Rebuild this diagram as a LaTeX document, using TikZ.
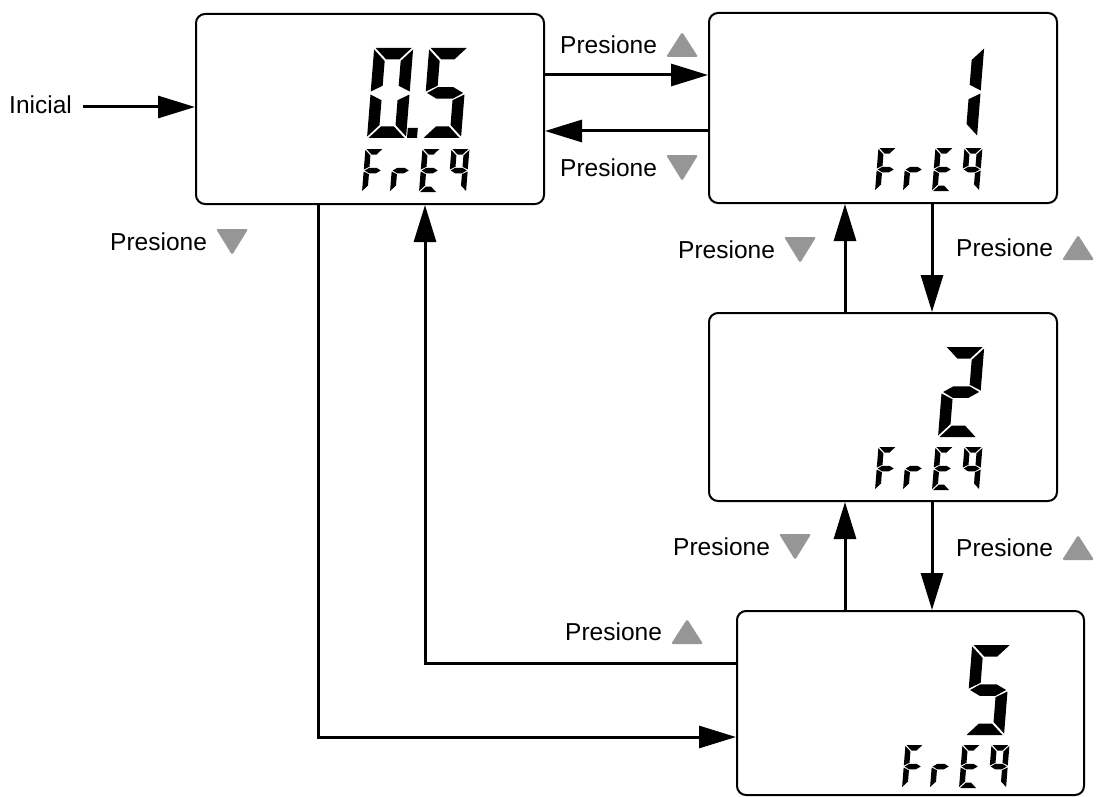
\documentclass[tikz,border=0pt]{standalone}
\usepackage{fontspec}
\setmainfont{Liberation Sans}
\usetikzlibrary{arrows.meta,calc}
\definecolor{keygray}{RGB}{150,150,150}
\tikzset{
  lcdbox/.style={draw, line width=2pt, rounded corners=9pt, minimum width=348pt, minimum height=190pt, inner sep=0pt, anchor=north west},
  conn/.style={line width=3pt, -{Triangle[length=37pt,width=22pt]}},
  lbl/.style={anchor=west, inner sep=0pt, font=\fontsize{24.5}{28}\selectfont},
  keytri/.style={fill=keygray, rounded corners=1.5pt},
}
% seven-segment pieces (cell 0..W x 0..H, y up)
\newcommand{\lcdsega}{\fill (\dG,\dH) -- ({\dW-\dG},\dH) -- ({\dW-\dT-\dG},{\dH-\dT}) -- ({\dT+\dG},{\dH-\dT}) -- cycle;}
\newcommand{\lcdsegd}{\fill (\dG,0) -- ({\dW-\dG},0) -- ({\dW-\dT-\dG},\dT) -- ({\dT+\dG},\dT) -- cycle;}
\newcommand{\lcdsegf}{\fill (0,{\dH-\dG}) -- (\dT,{\dH-\dT-\dG}) -- (\dT,{\dH/2+\dT/2+\dG}) -- (0,{\dH/2+\dG}) -- cycle;}
\newcommand{\lcdsege}{\fill (0,\dG) -- (\dT,{\dT+\dG}) -- (\dT,{\dH/2-\dT/2-\dG}) -- (0,{\dH/2-\dG}) -- cycle;}
\newcommand{\lcdsegb}{\fill (\dW,{\dH-\dG}) -- ({\dW-\dT},{\dH-\dT-\dG}) -- ({\dW-\dT},{\dH/2+\dT/2+\dG}) -- (\dW,{\dH/2+\dG}) -- cycle;}
\newcommand{\lcdsegc}{\fill (\dW,\dG) -- ({\dW-\dT},{\dT+\dG}) -- ({\dW-\dT},{\dH/2-\dT/2-\dG}) -- (\dW,{\dH/2-\dG}) -- cycle;}
\newcommand{\lcdsegg}{\fill (\dG,{\dH/2}) -- (\dT,{\dH/2+\dT/2}) -- ({\dW-\dT},{\dH/2+\dT/2}) -- ({\dW-\dG},{\dH/2}) -- ({\dW-\dT},{\dH/2-\dT/2}) -- (\dT,{\dH/2-\dT/2}) -- cycle;}
\newcommand{\lcdsegp}{\fill (0,0) rectangle (\dW,\dH);}
\newcommand{\lcdglyph}[7]{%
  \begin{scope}[shift={(#1,#2)}, xslant=0.08, yscale=-1]
    \def\dW{#3}\def\dH{#4}\def\dT{#5}\def\dG{#6}%
    \foreach \s in {#7}{\csname lcdseg\s\endcsname}
  \end{scope}}
\newcommand{\bigdigit}[3]{\lcdglyph{#1}{#2}{39}{90}{11.5}{1.5}{#3}}
\newcommand{\smallchar}[3]{\lcdglyph{#1}{#2}{18}{43}{5.5}{1}{#3}}
\newcommand{\freqword}[2]{%
  \smallchar{{#1-181}}{#2}{a,f,g,e}
  \smallchar{{#1-153}}{#2}{e,g}
  \smallchar{{#1-124}}{#2}{a,f,g,e,d}
  \smallchar{{#1-95}}{#2}{a,b,c,f,g}}
\begin{document}
\begin{tikzpicture}[x=1pt,y=-1pt]
\useasboundingbox (0,0) rectangle (1097,797);
% boxes
\node[lcdbox] (A) at (195,13) {};
\node[lcdbox] (B) at (708,12) {};
\node[lcdbox, minimum height=188pt] (C) at (708,312) {};
\node[lcdbox, minimum height=184pt, minimum width=347pt] (D) at (736,610) {};
% LCD readings
\bigdigit{367}{138}{a,b,c,d,e,f}
\lcdglyph{407}{138}{10}{10}{0}{0}{p}
\bigdigit{422}{138}{a,f,g,c,d}
\freqword{543}{192}
\bigdigit{938}{137}{b,c}
\freqword{1056}{191}
\bigdigit{938}{437}{a,b,g,e,d}
\freqword{1056}{490}
\bigdigit{965}{735}{a,f,g,c,d}
\freqword{1083}{788}
% labels
\node[lbl] (ini) at (9,104.5) {Inicial};
\node[lbl] (l1) at (560,45) {Presione};
\node[lbl] (l2) at (560,168) {Presione};
\node[lbl] (l3) at (110,242) {Presione};
\node[lbl] (l4) at (678,250) {Presione};
\node[lbl] (l5) at (956,248) {Presione};
\node[lbl] (l6) at (673,547) {Presione};
\node[lbl] (l7) at (956,548) {Presione};
\node[lbl] (l8) at (565,632) {Presione};
% key triangles (up)
\foreach \n in {l1,l5,l7,l8}{
  \fill[keytri] ($(\n.east)+(9,12)$) -- ++(32,0) -- ++(-16,-25) -- cycle;}
% key triangles (down)
\foreach \n in {l2,l3,l4,l6}{
  \fill[keytri] ($(\n.east)+(9,-13)$) -- ++(32,0) -- ++(-16,26) -- cycle;}
% connectors
\draw[conn] ($(ini.east)+(11,2.5)$) -- ($(ini.east -| A.west)+(0,2.5)$);
\draw[conn] ([yshift=-62pt]A.north east) -- ([yshift=-63pt]B.north west);
\draw[conn] ([yshift=-119pt]B.north west) -- ([yshift=-118pt]A.north east);
\draw[conn] ([xshift=224pt]B.south west) -- ([xshift=224pt]C.north west);
\draw[conn] ([xshift=137pt]C.north west) -- ([xshift=137pt]B.south west);
\draw[conn] ([xshift=224pt]C.south west) -- ([xshift=196pt]D.north west);
\draw[conn] ([xshift=109pt]D.north west) -- ([xshift=137pt]C.south west);
\draw[conn] ([yshift=-53pt]D.north west) -| ([xshift=230pt]A.south west);
\draw[conn] ([xshift=123pt]A.south west) |- ([yshift=-127pt]D.north west);
\end{tikzpicture}
\end{document}
